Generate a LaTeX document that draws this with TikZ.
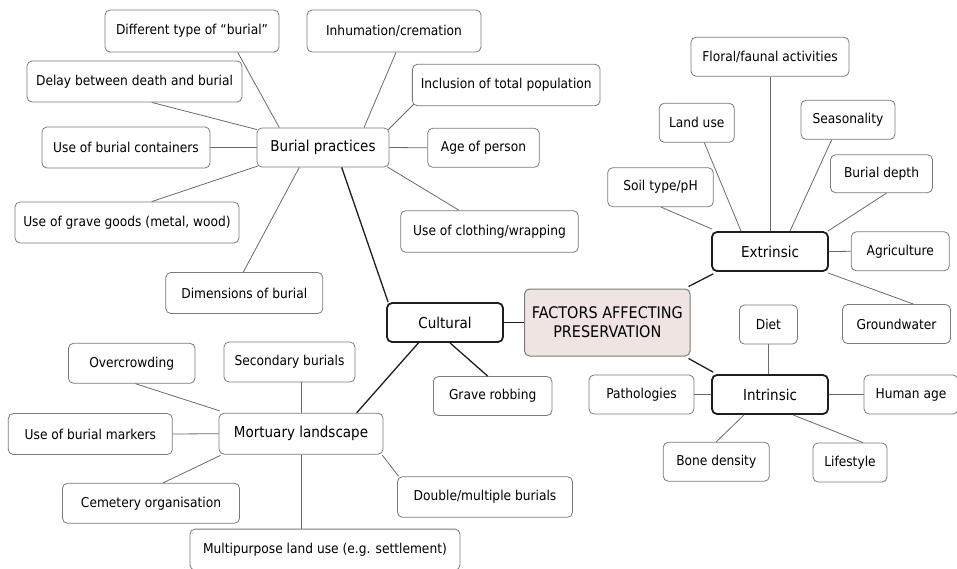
\documentclass[tikz,border=0pt]{standalone}
\usepackage{fontspec}
\setmainfont{DejaVu Sans}[FakeStretch=0.9]
\usetikzlibrary{calc}
\definecolor{leafborder}{HTML}{7A7A7A}
\definecolor{leafline}{HTML}{6A6A6A}
\definecolor{mainline}{HTML}{1E1E1E}
\definecolor{centerfill}{HTML}{EFE4E2}
\tikzset{
  box/.style={draw=leafborder, line width=0.8pt, rounded corners=5pt, inner sep=0pt, align=center, fill=white},
  leaf/.style={box, font=\fontsize{13.6}{16}\selectfont},
  branch/.style={box, font=\fontsize{15}{18}\selectfont},
  mainbox/.style={box, draw=mainline, line width=1.8pt, font=\fontsize{15}{18}\selectfont},
  centerbox/.style={box, fill=centerfill, draw=leafborder, line width=1pt, font=\fontsize{16}{18.7}\selectfont},
  thinline/.style={draw=leafline, line width=0.8pt},
  thickline/.style={draw=mainline, line width=1.3pt},
}
\newcommand{\bx}[6]{\node[#1, minimum width=#4pt, minimum height=#5pt] (#2) at (#3) {#6};}
\begin{document}
\begin{tikzpicture}[x=1pt,y=-1pt]
\useasboundingbox (0,0) rectangle (957,568);
% nodes
\bx{leaf}{diff}{192,31}{174}{42}{Different type of “burial”}
\bx{leaf}{inhum}{394,31}{174}{42}{Inhumation/cremation}
\bx{leaf}{delay}{134.5,81.5}{215}{41}{Delay between death and burial}
\bx{leaf}{incl}{506.2,85}{187.7}{41.4}{Inclusion of total population}
\bx{leaf}{cont}{126,147.5}{168}{41}{Use of burial containers}
\bx{leaf}{age}{483.5,147.8}{111.6}{39}{Age of person}
\bx{leaf}{goods}{127,222.5}{224}{41}{Use of grave goods (metal, wood)}
\bx{leaf}{cloth}{489.5,231.5}{177.6}{41.6}{Use of clothing/wrapping}
\bx{leaf}{dim}{244.3,293}{157}{41}{Dimensions of burial}
\bx{branch}{bp}{323,147.5}{132}{39}{Burial practices}
\bx{mainbox}{cult}{445,322.5}{116}{39}{Cultural}
\bx{centerbox}{fact}{607.3,322.5}{165.5}{67}{FACTORS AFFECTING\\PRESERVATION}
\bx{mainbox}{ext}{770,251.5}{116}{39}{Extrinsic}
\bx{mainbox}{intr}{770,394.5}{116}{39}{Intrinsic}
\bx{leaf}{floral}{770,56.7}{158}{39}{Floral/faunal activities}
\bx{leaf}{land}{696.7,122.8}{75}{39}{Land use}
\bx{leaf}{season}{848,119.8}{94}{39}{Seasonality}
\bx{leaf}{soil}{660.5,187.2}{105.6}{39}{Soil type/pH}
\bx{leaf}{depth}{881.5,173.7}{102}{38}{Burial depth}
\bx{leaf}{agri}{900.3,251.3}{98}{39}{Agriculture}
\bx{leaf}{ground}{896.5,324}{108}{39}{Groundwater}
\bx{leaf}{diet}{768.4,324.5}{58}{39}{Diet}
\bx{leaf}{path}{641.5,394.5}{105}{39}{Pathologies}
\bx{leaf}{hage}{911,394.5}{94}{39}{Human age}
\bx{leaf}{bone}{716.3,461.7}{106}{39}{Bone density}
\bx{leaf}{life}{850,462.5}{74}{39}{Lifestyle}
\bx{leaf}{rob}{492.7,396}{118.5}{39}{Grave robbing}
\bx{branch}{ml}{301,433.7}{164}{41}{Mortuary landscape}
\bx{leaf}{over}{131.7,363.3}{126.5}{40}{Overcrowding}
\bx{leaf}{sec}{289.5,362}{131}{40}{Secondary burials}
\bx{leaf}{mark}{90.3,434}{164}{41}{Use of burial markers}
\bx{leaf}{cem}{151,503.3}{177}{40}{Cemetery organisation}
\bx{leaf}{dbl}{485,497}{175}{40.6}{Double/multiple burials}
\bx{leaf}{multi}{325,549.6}{270}{41}{Multipurpose land use (e.g. settlement)}
% Burial practices connectors
\draw[thinline] ([xshift=45.7pt]diff.south) -- ([xshift=-43.7pt]bp.north);
\draw[thinline] ([xshift=2pt]inhum.south) -- ([xshift=41pt]bp.north);
\draw[thinline] ([xshift=17.2pt]delay.south) -- ([shift={(0.5pt,-2pt)}]bp.north west);
\draw[thinline] ([shift={(2pt,2pt)}]incl.south west) -- ([shift={(-1pt,-2pt)}]bp.north east);
\draw[thinline] (cont.east) -- (bp.west);
\draw[thinline] (bp.east) -- (age.west);
\draw[thinline] ([xshift=24.7pt]goods.north) -- ([shift={(1.5pt,1.5pt)}]bp.south west);
\draw[thinline] ([shift={(-2pt,0.5pt)}]bp.south east) -- ([xshift=-30.5pt]cloth.north);
\draw[thinline] ([xshift=-23.7pt]bp.south) -- ([xshift=-1pt]dim.north);
\draw[thickline] ([xshift=18.7pt]bp.south) -- ([xshift=2pt]cult.north west);
% Cultural connectors
\draw[thickline] (cult.east) -- (fact.west);
\draw[thickline] ([xshift=-26.6pt]cult.south) -- ([xshift=55.7pt]ml.north);
\draw[thickline] ([xshift=5pt]cult.south) -- ([xshift=-5pt]rob.north);
% Mortuary landscape connectors
\draw[thinline] ([xshift=3.7pt]over.south) -- ([shift={(1pt,2pt)}]ml.north west);
\draw[thinline] (ml.north |- sec.south) -- (ml.north);
\draw[thinline] (mark.east) -- (ml.west);
\draw[thinline] ([xshift=12pt]cem.north) -- ([shift={(2pt,-0.7pt)}]ml.south west);
\draw[thinline] (ml.south) -- (ml.south |- multi.north);
\draw[thinline] ([shift={(-1pt,-0.7pt)}]ml.south east) -- ([xshift=1.5pt]dbl.north west);
% Factors connectors
\draw[thickline] ([shift={(-2pt,2pt)}]fact.north east) -- ([shift={(2pt,-2pt)}]ext.south west);
\draw[thickline] ([shift={(-2pt,-2pt)}]fact.south east) -- ([shift={(2pt,2pt)}]intr.north west);
% Extrinsic connectors
\draw[thinline] (floral.south) -- (ext.north);
\draw[thinline] ([xshift=7.6pt]land.south) -- ([xshift=-29pt]ext.north);
\draw[thinline] ([xshift=-16.3pt]season.south) -- ([xshift=20pt]ext.north);
\draw[thinline] ([xshift=0.5pt]soil.south) -- ([shift={(1pt,2pt)}]ext.north west);
\draw[thinline] ([xshift=5pt]depth.south) -- ([shift={(-1pt,0pt)}]ext.north east);
\draw[thinline] (ext.east) -- (agri.west);
\draw[thinline] ([shift={(-1pt,-1pt)}]ext.south east) -- ([xshift=17pt]ground.north);
% Intrinsic connectors
\draw[thinline] (diet.south) -- (diet.south |- intr.north);
\draw[thinline] (path.east) -- (intr.west);
\draw[thinline] (intr.east) -- (hage.west);
\draw[thinline] ([xshift=-26pt]intr.south) -- (bone.north);
\draw[thinline] ([xshift=23pt]intr.south) -- ([xshift=13pt]life.north);
\end{tikzpicture}
\end{document}
